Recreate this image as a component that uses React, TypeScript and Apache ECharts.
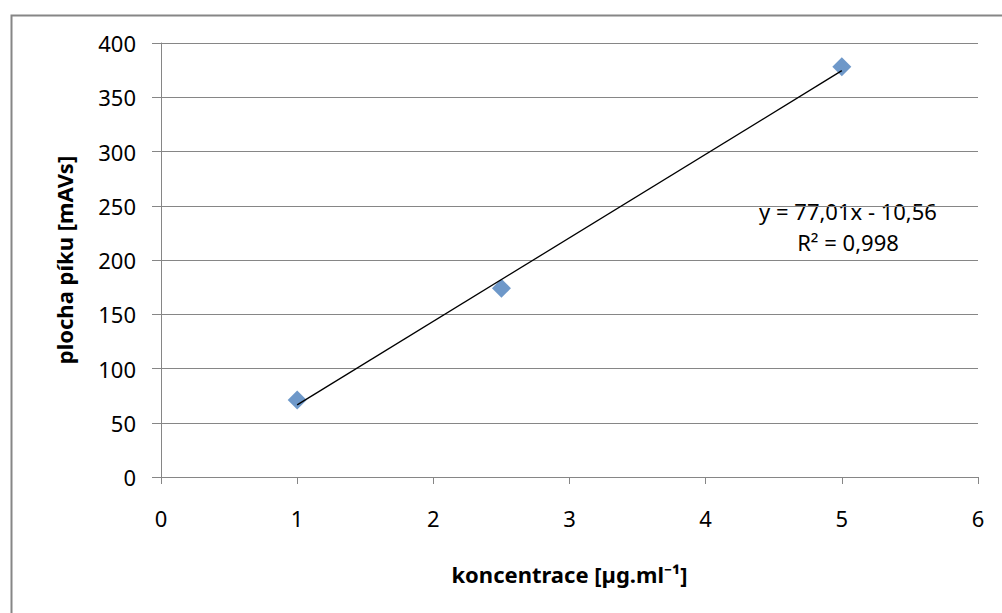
import React, { useEffect, useRef } from "react";
import * as echarts from "echarts";

const xValues = [1, 2.5, 5];
const yValues = [71, 174, 378];
const trendX = [1, 5];
const trendY = [66.45, 374.49];
const equationLines = ["y = 77,01x - 10,56", "R² = 0,998"];
const xTitle = "koncentrace [µg.ml⁻¹]";
const yTitle = "plocha píku [mAVs]";

const FONT = "'Noto Sans', 'Open Sans', sans-serif";

export default function App() {
  const ref = useRef<HTMLDivElement>(null);
  useEffect(() => {
    if (!ref.current) return;
    const chart = echarts.init(ref.current, null, { renderer: "svg" });
    chart.setOption({
      animation: false,
      backgroundColor: "#ffffff",
      grid: { left: 161, right: 24, top: 43, bottom: 136 },
      xAxis: {
        type: "value",
        min: 0,
        max: 6,
        interval: 1,
        name: xTitle,
        nameLocation: "middle",
        nameGap: 86,
        nameTextStyle: { fontFamily: FONT, fontWeight: "bold", fontSize: 22, color: "#000" },
        axisLine: { show: true, onZero: false, lineStyle: { color: "#868686", width: 1 } },
        axisTick: { show: true, length: 7, lineStyle: { color: "#868686" } },
        axisLabel: { fontFamily: FONT, fontSize: 22, color: "#000", margin: 30 },
        splitLine: { show: false },
      },
      yAxis: {
        type: "value",
        min: 0,
        max: 400,
        interval: 50,
        name: yTitle,
        nameLocation: "middle",
        nameGap: 86,
        nameRotate: 90,
        nameTextStyle: { fontFamily: FONT, fontWeight: "bold", fontSize: 22, color: "#000" },
        axisLine: { show: true, lineStyle: { color: "#868686", width: 1 } },
        axisTick: { show: true, length: 9, lineStyle: { color: "#868686" } },
        axisLabel: { fontFamily: FONT, fontSize: 22, color: "#000", margin: 25 },
        splitLine: { show: true, lineStyle: { color: "#868686", width: 1 } },
      },
      series: [
        {
          type: "line",
          data: trendX.map((x, i) => [x, trendY[i]]),
          symbol: "none",
          lineStyle: { color: "#000", width: 1.3 },
          z: 3,
          silent: true,
        },
        {
          type: "scatter",
          data: xValues.map((x, i) => [x, yValues[i]]),
          symbol: "diamond",
          symbolSize: [19, 19],
          itemStyle: { color: "#4a7ebb" },
          z: 2,
        },
      ],
      graphic: [
        {
          type: "rect",
          left: 9,
          top: 13,
          shape: { width: 1100, height: 700 },
          style: { fill: "none", stroke: "#868686", lineWidth: 2 },
          z: -1,
        },
        {
          type: "text",
          x: 848,
          y: 211,
          style: {
            text: equationLines[0],
            font: `22px ${FONT}`,
            fill: "#000",
            align: "center",
            verticalAlign: "middle",
          },
        },
        {
          type: "text",
          x: 848,
          y: 242,
          style: {
            text: equationLines[1],
            font: `22px ${FONT}`,
            fill: "#000",
            align: "center",
            verticalAlign: "middle",
          },
        },
      ],
    });
    return () => chart.dispose();
  }, []);
  return (
    <div
      ref={ref}
      style={{ position: "fixed", left: 0, top: 0, width: 1002, height: 613 }}
    />
  );
}
